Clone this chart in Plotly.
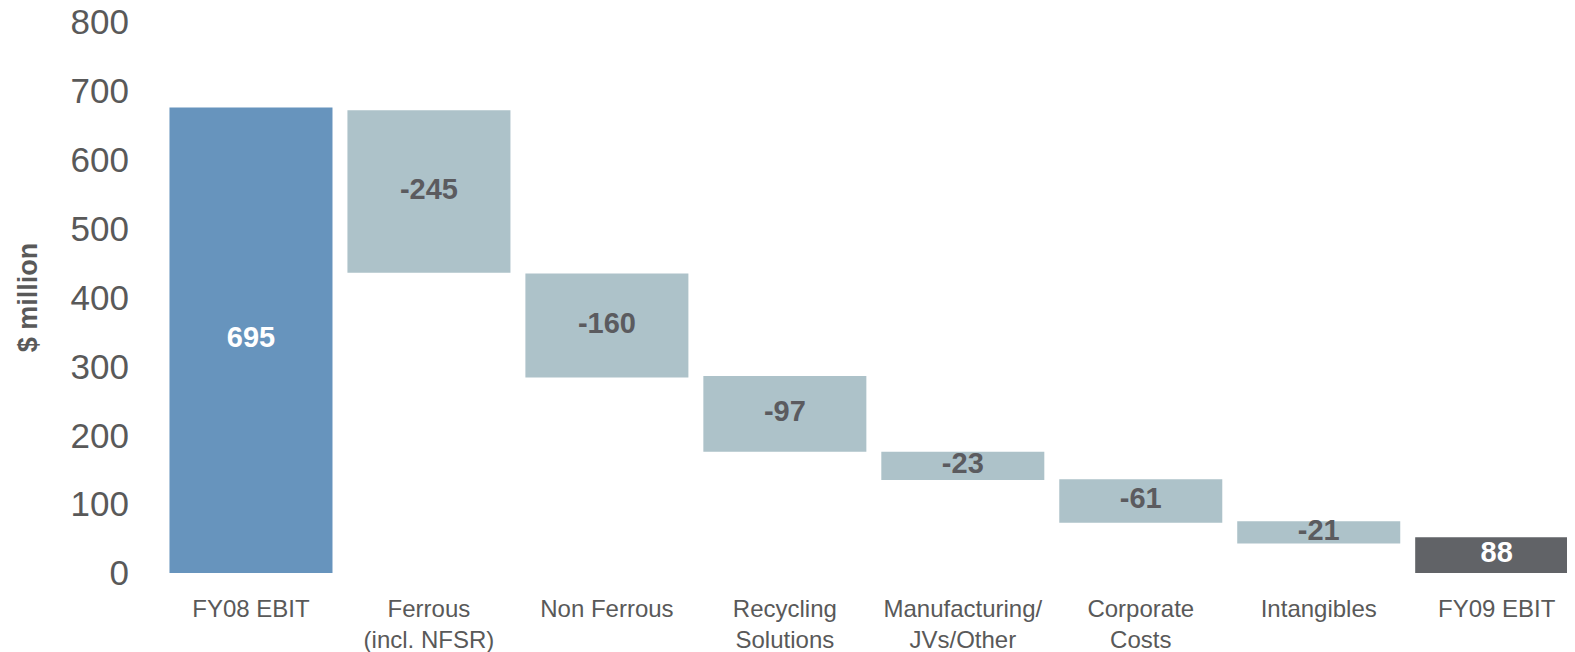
import plotly.graph_objects as go

categories = ["FY08 EBIT", "Ferrous<br>(incl. NFSR)", "Non Ferrous", "Recycling<br>Solutions",
              "Manufacturing/<br>JVs/Other", "Corporate<br>Costs", "Intangibles", "FY09 EBIT"]
bar_top = [676, 672, 435, 286, 176, 136, 75, 52]
bar_base = [0, 436, 284, 176, 135, 73, 43, 0]
label_values = ["695", "-245", "-160", "-97", "-23", "-61", "-21", "88"]

bar_colors = ["#6794bd", "#adc2c9", "#adc2c9", "#adc2c9", "#adc2c9", "#adc2c9", "#adc2c9", "#616367"]
label_colors = ["#ffffff", "#5b5b5f", "#5b5b5f", "#5b5b5f", "#5b5b5f", "#5b5b5f", "#5b5b5f", "#ffffff"]

heights = [t - b for t, b in zip(bar_top, bar_base)]
mids = [(t + b) / 2 for t, b in zip(bar_top, bar_base)]

fig = go.Figure()
fig.add_trace(go.Bar(
    x=categories, y=heights, base=bar_base, width=0.916,
    marker=dict(color=bar_colors, line=dict(width=0)),
    hoverinfo="skip", showlegend=False,
))
fig.add_trace(go.Scatter(
    x=categories, y=mids, mode="text", text=label_values,
    textfont=dict(family="Liberation Sans, Arial, sans-serif", size=29, color=label_colors, weight="bold"),
    textposition="middle center", cliponaxis=False, showlegend=False, hoverinfo="skip",
))

fig.update_layout(
    width=1567, height=644,
    margin=dict(l=154, r=0, t=14, b=79, autoexpand=False),
    paper_bgcolor="white", plot_bgcolor="white",
    font=dict(family="Liberation Sans, Arial, sans-serif", color="#595959"),
    xaxis=dict(
        range=[-0.5, 7.44], showgrid=False, zeroline=False, showline=False,
        ticks="", tickfont=dict(size=24, color="#595959"), ticklabelstandoff=19,
        automargin=False, ticklabeloverflow="allow",
    ),
    yaxis=dict(
        range=[0, 800], tickvals=[0, 100, 200, 300, 400, 500, 600, 700, 800],
        showgrid=False, zeroline=False, showline=False, ticks="",
        tickfont=dict(size=35, color="#595959"), ticklabelstandoff=32,
        ticklabeloverflow="allow",
        title=dict(text="$ million", font=dict(size=27, color="#595959", weight="bold"), standoff=25),
        automargin=False,
    ),
)

fig.write_html("out.html")
